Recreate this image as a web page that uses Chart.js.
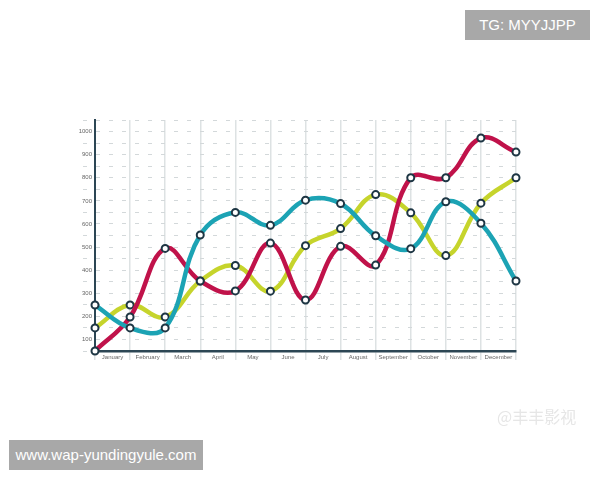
<!DOCTYPE html>
<html>
<head>
<meta charset="utf-8">
<script src="https://cdn.jsdelivr.net/npm/chart.js@4.4.0/dist/chart.umd.min.js"></script>
<style>
  html, body { margin: 0; padding: 0; background: #fff; }
  #wrap { position: relative; width: 600px; height: 480px; }
  canvas { position: absolute; left: 0; top: 0; }
  .tag {
    position: absolute; background: #a8a8a8; color: #fff;
    font-family: 'Liberation Sans', Arial, sans-serif; font-size: 15px;
    line-height: 30px; text-align: center;
  }
  .mark {
    position: absolute; color: #e6e6e6; font-family: 'Noto Sans CJK SC', sans-serif;
    font-size: 16px;
  }
</style>
</head>
<body>
<div id="wrap">
  <canvas id="chart" width="600" height="480"></canvas>
  <div class="tag" style="left:465px; top:10px; width:125px;">TG: MYYJJPP</div>
  <div class="tag" style="left:9px; top:440px; width:194px;">www.wap-yundingyule.com</div>
  <div class="mark" style="left:497px; top:404px;">@丰丰影视</div>
</div>
<script>
// month labels sit between the vertical lines
const months = ['January', 'February', 'March', 'April', 'May', 'June', 'July',
  'August', 'September', 'October', 'November', 'December'];

// 13 points each, one per vertical line
const redValues = [50, 197, 494, 353, 310, 517, 271, 503, 422, 800, 800, 972, 911];
const yellowValues = [150, 249, 197, 353, 420, 309, 506, 580, 727, 648, 463, 690, 800];
const tealValues = [249, 150, 150, 552, 650, 594, 703, 688, 549, 493, 696, 603, 353];

const toPoints = (values) => values.map((v, i) => ({ x: i, y: v }));

const lineStyle = (color, order) => ({
  data: [],
  borderColor: color,
  borderWidth: 4.5,
  tension: 0.4,
  pointRadius: 3.5,
  pointBorderWidth: 2,
  pointBackgroundColor: '#ffffff',
  pointBorderColor: '#1e3644',
  clip: false,
  order: order
});

const red = Object.assign(lineStyle('#c0124a', 2), { label: 'Red', data: toPoints(redValues) });
const yellow = Object.assign(lineStyle('#c6d42c', 3), { label: 'Yellow', data: toPoints(yellowValues) });
const teal = Object.assign(lineStyle('#1ca3b4', 1), { label: 'Teal', data: toPoints(tealValues) });

const ctx = document.getElementById('chart').getContext('2d');
new Chart(ctx, {
  type: 'line',
  data: { datasets: [yellow, red, teal] },
  options: {
    responsive: false,
    animation: false,
    layout: { padding: { left: 70, right: 84, top: 120, bottom: 114 } },
    plugins: { legend: { display: false }, tooltip: { enabled: false } },
    scales: {
      x: {
        type: 'linear',
        min: 0,
        max: 12,
        afterFit: (scale) => { scale.height = 15; },
        afterBuildTicks: (scale) => {
          const ticks = [];
          for (let v = 0; v <= 24; v++) ticks.push({ value: v / 2 });
          scale.ticks = ticks;
        },
        ticks: {
          autoSkip: false,
          maxRotation: 0,
          padding: -6,
          color: '#666',
          font: { family: 'Liberation Sans', size: 6 },
          callback: (value) => Number.isInteger(value) ? '' : months[Math.floor(value)]
        },
        grid: {
          color: (c) => Number.isInteger(c.tick && c.tick.value) ? '#dde2e3' : 'rgba(0,0,0,0)',
          lineWidth: 1.5,
          tickLength: 9
        },
        border: { display: true, color: '#2c4654', width: 2.5 }
      },
      y: {
        min: 50,
        max: 1050,
        afterFit: (scale) => { scale.width = 25; },
        afterBuildTicks: (scale) => {
          const ticks = [];
          for (let v = 50; v <= 1050; v += 50) ticks.push({ value: v });
          scale.ticks = ticks;
        },
        ticks: {
          padding: -9,
          color: '#666',
          font: { family: 'Liberation Sans', size: 6 },
          callback: (value) => (value % 100 === 0 && value <= 1000) ? value : ''
        },
        grid: {
          color: (c) => c.tick && c.tick.value === 50 ? 'rgba(0,0,0,0)' : '#d3d8da',
          tickColor: (c) => c.tick && c.tick.value % 100 === 0 ? 'rgba(0,0,0,0)' : '#d3d8da',
          lineWidth: 1,
          tickBorderDash: [4, 9],
          tickLength: 12
        },
        border: { display: true, color: '#2c4654', width: 2, dash: [4, 9] }
      }
    }
  }
});
</script>
</body>
</html>
